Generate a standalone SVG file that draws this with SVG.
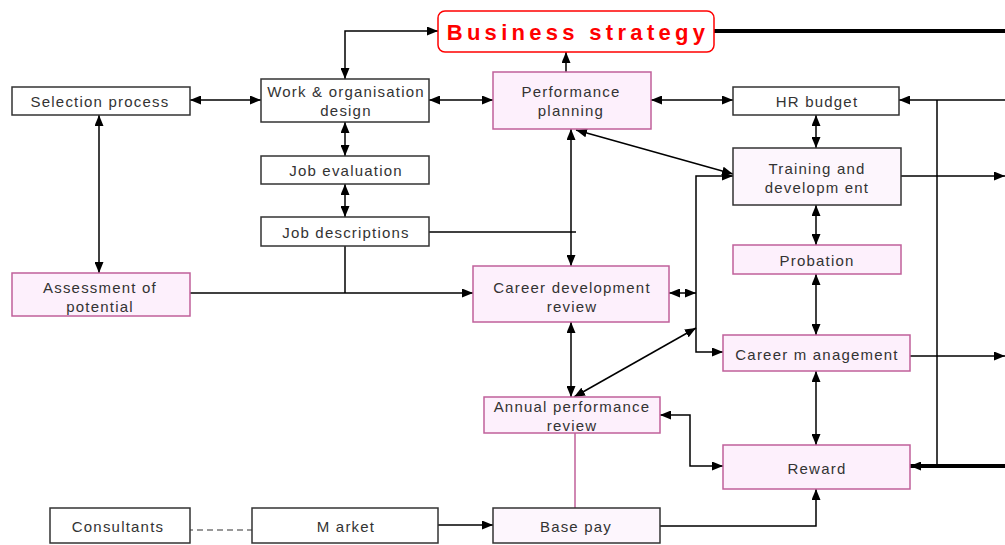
<svg xmlns="http://www.w3.org/2000/svg" width="1005" height="545" viewBox="0 0 1005 545">
<defs>
<marker id="a" markerUnits="userSpaceOnUse" markerWidth="11" markerHeight="9" refX="11" refY="4.5" orient="auto-start-reverse">
<path d="M0,0 L11,4.5 L0,9 z" fill="#000"/>
</marker>
<style>
.bx{fill:#fff;stroke:#333;stroke-width:1.5}
.pk{fill:#fdf0fc;stroke:#c0609a;stroke-width:1.5}
.pd{fill:#fdf6fd;stroke:#333;stroke-width:1.5}
.t{font-family:"Liberation Sans",Arial,sans-serif;font-size:15px;letter-spacing:1.2px;fill:#333;text-anchor:middle}
.c{fill:none;stroke:#000;stroke-width:1.5}
.b{marker-start:url(#a);marker-end:url(#a)}
.e{marker-end:url(#a)}
</style>
</defs>
<g id="connectors">
<path class="c b" d="M345,79 V31 H438"/>
<path class="c e" d="M566,72 V52"/>
<path d="M714,31 H1005" fill="none" stroke="#000" stroke-width="4"/>
<path class="c b" d="M190,100 H261"/>
<path class="c b" d="M429,100 H493"/>
<path class="c b" d="M651,100 H733"/>
<path class="c b" d="M816,115 V148"/>
<path class="c b" d="M345,122 V156"/>
<path class="c b" d="M345,184 V217"/>
<path class="c b" d="M99,115 V273"/>
<path class="c e" d="M190,293 H473"/>
<path class="c" d="M345,246 V293"/>
<path class="c" d="M429,232 H576"/>
<path class="c b" d="M571,129 V266"/>
<path class="c b" d="M576,130 L733,174"/>
<path class="c b" d="M733,176 H696 V352 H723"/>
<path class="c b" d="M669,293 H696"/>
<path class="c b" d="M574,397 L696,328"/>
<path class="c b" d="M571,322 V397"/>
<path class="c b" d="M816,205 V245"/>
<path class="c b" d="M816,274 V335"/>
<path class="c b" d="M816,371 V445"/>
<path class="c b" d="M660,415 H690 V466 H723"/>
<path class="c e" d="M660,526 H816 V489"/>
<path d="M575,433 V508" fill="none" stroke="#c0609a" stroke-width="1.5"/>
<path class="c e" d="M438,525 H493"/>
<path d="M187,530 H252" fill="none" stroke="#777" stroke-width="1.5" stroke-dasharray="6,4"/>
<path class="c e" d="M1005,100 H899"/>
<path class="c" d="M937,100 V466"/>
<path class="e" d="M1005,466 H910" fill="none" stroke="#000" stroke-width="4"/>
<path class="c e" d="M899,176 H1005"/>
<path class="c e" d="M910,356 H1005"/>
</g>
<g id="business-strategy">
<rect x="438" y="11" width="276" height="41" rx="7" fill="#fff" stroke="#f00" stroke-width="1.5"/>
<text x="578" y="40" font-family="'Liberation Sans',Arial,sans-serif" font-size="22" font-weight="bold" letter-spacing="4.3" fill="#f00" text-anchor="middle">Business strategy</text>
</g>
<g id="selection-process">
<rect class="bx" x="12" y="87" width="178" height="28"/>
<text class="t" x="100" y="106.5">Selection process</text>
</g>
<g id="work-design">
<rect class="bx" x="261" y="79" width="168" height="43"/>
<text class="t" x="346" y="96.5">Work &amp; organisation</text>
<text class="t" x="346" y="115.5">design</text>
</g>
<g id="performance-planning">
<rect class="pk" x="493" y="72" width="158" height="57"/>
<text class="t" x="571" y="96.5">Performance</text>
<text class="t" x="571" y="115.5">planning</text>
</g>
<g id="hr-budget">
<rect class="bx" x="733" y="87" width="166" height="28"/>
<text class="t" x="817" y="106.5">HR budget</text>
</g>
<g id="job-evaluation">
<rect class="bx" x="261" y="156" width="168" height="28"/>
<text class="t" x="346" y="175.5">Job evaluation</text>
</g>
<g id="training">
<rect class="pd" x="733" y="148" width="168" height="57"/>
<text class="t" x="817" y="173.5">Training and</text>
<text class="t" x="817" y="192.5">developm ent</text>
</g>
<g id="job-descriptions">
<rect class="bx" x="261" y="217" width="168" height="29"/>
<text class="t" x="346" y="237.5">Job descriptions</text>
</g>
<g id="probation">
<rect class="pk" x="733" y="245" width="168" height="29"/>
<text class="t" x="817" y="265.5">Probation</text>
</g>
<g id="assessment">
<rect class="pk" x="12" y="273" width="178" height="43"/>
<text class="t" x="100" y="292.5">Assessment of</text>
<text class="t" x="100" y="311.5">potential</text>
</g>
<g id="career-development-review">
<rect class="pk" x="473" y="266" width="196" height="56"/>
<text class="t" x="572" y="292.5">Career development</text>
<text class="t" x="572" y="311.5">review</text>
</g>
<g id="career-management">
<rect class="pk" x="723" y="335" width="187" height="36"/>
<text class="t" x="817" y="359.5">Career m anagement</text>
</g>
<g id="annual-performance-review">
<rect class="pk" x="484" y="397" width="176" height="36"/>
<text class="t" x="572" y="411.5">Annual performance</text>
<text class="t" x="572" y="430.5">review</text>
</g>
<g id="reward">
<rect class="pk" x="723" y="445" width="187" height="44"/>
<text class="t" x="817" y="473.5">Reward</text>
</g>
<g id="consultants">
<rect class="bx" x="50" y="508" width="140" height="35"/>
<text class="t" x="118" y="531.5">Consultants</text>
</g>
<g id="market">
<rect class="bx" x="252" y="508" width="186" height="35"/>
<text class="t" x="346" y="531.5">M arket</text>
</g>
<g id="base-pay">
<rect class="pd" x="493" y="508" width="167" height="35"/>
<text class="t" x="576" y="531.5">Base pay</text>
</g>
</svg>
